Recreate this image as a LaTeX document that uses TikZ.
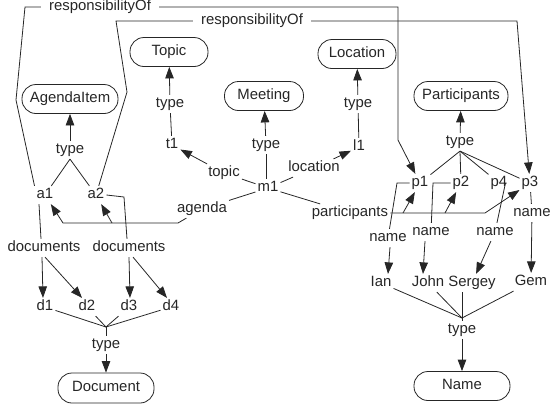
\documentclass[tikz,border=0pt]{standalone}
\usepackage{fontspec}
\setmainfont{Liberation Sans}
\usetikzlibrary{arrows.meta}
\begin{document}
\begin{tikzpicture}[x=1pt,y=-1pt,
  every node/.style={font=\fontsize{14.9pt}{17pt}\selectfont, text=black!85},
  lbl/.style={inner sep=2pt,text height=10.7pt,text depth=3.1pt},
  rlbl/.style={lbl,inner xsep=8pt},
  cls/.style={draw=black!85,line width=0.8pt,rounded corners=14pt,minimum height=29pt,
              inner sep=0pt,text height=10.7pt,text depth=3.1pt},
  link/.style={line width=0.8pt,draw=black!85},
  arr/.style={link,-{Triangle[length=11.5pt,width=8.5pt]}},
]
\useasboundingbox (0,0) rectangle (550,405);

% class boxes
\node[cls,minimum width=78pt] (Topic) at (169,52) {Topic};
\node[cls,minimum width=96pt] (AgendaItem) at (70,99) {AgendaItem};
\node[cls,minimum width=79pt] (Meeting) at (264,96) {Meeting};
\node[cls,minimum width=78pt] (Location) at (357,54) {Location};
\node[cls,minimum width=94pt] (Participants) at (461,96) {Participants};
\node[cls,minimum width=96pt,minimum height=30pt] (Document) at (106,388) {Document};
\node[cls,minimum width=96pt] (Name) at (462,386) {Name};

% instances
\node[lbl] (a1) at (45,195) {a1};
\node[lbl] (a2) at (96,195) {a2};
\node[lbl] (t1) at (172,145) {t1};
\node[lbl] (m1) at (268,188) {m1};
\node[lbl] (l1) at (359,147) {l1};
\node[lbl] (d1) at (45,307) {d1};
\node[lbl] (d2) at (87,307) {d2};
\node[lbl] (d3) at (129,307) {d3};
\node[lbl] (d4) at (171,307) {d4};
\node[lbl] (p1) at (420,183) {p1};
\node[lbl] (p2) at (461,183) {p2};
\node[lbl] (p4) at (499,183) {p4};
\node[lbl] (p3) at (530,183) {p3};
\node[lbl] (Ian) at (381,283) {Ian};
\node[lbl] (John) at (428,283) {John};
\node[lbl] (Sergey) at (472,283) {Sergey};
\node[lbl] (Gem) at (531,282) {Gem};

% property labels
\node[rlbl] (rlab1) at (100,7) {responsibilityOf};
\node[rlbl] (rlab2) at (252,21) {responsibilityOf};
\node[lbl] (tyA) at (70,150) {type};
\node[lbl] (tyT) at (170,104) {type};
\node[lbl] (tyM) at (266,145) {type};
\node[lbl] (tyL) at (358,104) {type};
\node[lbl] (tyP) at (460,142) {type};
\node[lbl] (tyD) at (106,345) {type};
\node[lbl] (tyN) at (462,330) {type};
\node[lbl] (topicL) at (224,173) {topic};
\node[lbl] (locL) at (314,168) {location};
\node[lbl] (agL) at (202,209) {agenda};
\node[lbl] (partL) at (350,213) {participants};
\node[lbl] (doc1) at (44,248) {documents};
\node[lbl] (doc2) at (129,248) {documents};
\node[lbl] (nm1) at (388,238) {name};
\node[lbl] (nm2) at (431,232) {name};
\node[lbl] (nm3) at (495,232) {name};
\node[lbl] (nm4) at (532,213) {name};

% bend points
\coordinate (r1a) at (16,100);
\coordinate (r1b) at (25,7);
\coordinate (r1c) at (398,7);
\coordinate (r1d) at (398,140);
\coordinate (r2a) at (127,92);
\coordinate (r2b) at (116,21);
\coordinate (r2c) at (517,21);
\coordinate (agB) at (178,223);
\coordinate (agC) at (63,223);
\coordinate (agD) at (112,223);
\coordinate (ptE) at (485,213);
\coordinate (ptB1) at (403,213);
\coordinate (ptB2) at (445,213);
\coordinate (c1) at (397,183);
\coordinate (c2) at (433,183);
\coordinate (c3) at (124,197);
\coordinate (cD) at (106,327);
\coordinate (cN) at (462,318);

% type links
\draw[arr] (tyA) -- (AgendaItem);
\draw[link] (tyA.south) -- (a1);
\draw[link] (tyA.south) -- (a2);
\draw[arr] (tyT) -- (Topic);
\draw[link] (t1) -- (tyT);
\draw[arr] (tyM) -- (Meeting);
\draw[link] (tyM) -- (tyM |- m1.north);
\draw[arr] (tyL) -- (Location);
\draw[link] (l1) -- (tyL);
\draw[arr] (tyP) -- (Participants);
\draw[link] (tyP.south) -- (p1);
\draw[link] (tyP.south) -- (p2);
\draw[link] (tyP.south) -- (p4);
\draw[link] (tyP.south) -- (p3);
\draw[link] (d1) -- (cD);
\draw[link] (d2) -- (cD);
\draw[link] (d3) -- (cD);
\draw[link] (d4) -- (cD);
\draw[link] (cD) -- (tyD);
\draw[arr] (tyD) -- (Document);
\draw[link] (Ian) -- (cN);
\draw[link] (John) -- (cN);
\draw[link] (Sergey.south -| cN) -- (cN);
\draw[link] (Gem) -- (cN);
\draw[link] (cN) -- (tyN);
\draw[arr] (tyN) -- (Name);

% meeting properties
\draw[link] (m1) -- (topicL);
\draw[arr] (topicL) -- (t1);
\draw[link] (m1) -- (locL);
\draw[arr] (locL) -- (l1);
\draw[link] (m1) -- (agL);
\draw[arr] (agL) -- (agB) -- (agC) -- (a1);
\draw[arr] (agD) -- (a2);
\draw[link] (m1) -- (partL);
\draw[arr] (partL) -- (ptE) -- (p3);
\draw[arr] (ptB1) -- (p1);
\draw[arr] (ptB2) -- (p2);

% documents
\draw[link] ([xshift=-6pt]a1.south) -- ([xshift=-3pt]doc1.north);
\draw[link] (a2.east) -- (c3) -- ([xshift=-2pt]doc2.north);
\draw[arr] ([xshift=-2pt]doc1.south) -- ([xshift=-2pt]d1.north);
\draw[arr] ([xshift=1pt]doc1.south) -- ([xshift=-5pt]d2.north);
\draw[arr] (doc2.south) -- ([xshift=1pt]d3.north);
\draw[arr] ([xshift=4pt]doc2.south) -- ([xshift=-4pt]d4.north);

% names
\draw[link] (p1.west) -- (c1) -- (nm1);
\draw[arr] ([xshift=2pt]nm1.south) -- ([xshift=7pt]Ian.north);
\draw[link] (p2.west) -- (c2) -- (nm2);
\draw[arr] ([xshift=-6pt]nm2.south) -- ([xshift=-5pt]John.north);
\draw[link] ([xshift=-4pt]p4.east) -- (nm3);
\draw[arr] (nm3) -- (Sergey);
\draw[link] (p3) -- (nm4);
\draw[arr] (nm4) -- (Gem);

% responsibilityOf
\draw[link] (a1.north west) -- (r1a) -- (r1b) -- (rlab1);
\draw[arr] (rlab1) -- (r1c) -- (r1d) -- (p1);
\draw[link] (a2) -- (r2a) -- (r2b) -- (rlab2);
\draw[arr] (rlab2) -- (r2c) -- (p3);
\end{tikzpicture}
\end{document}
